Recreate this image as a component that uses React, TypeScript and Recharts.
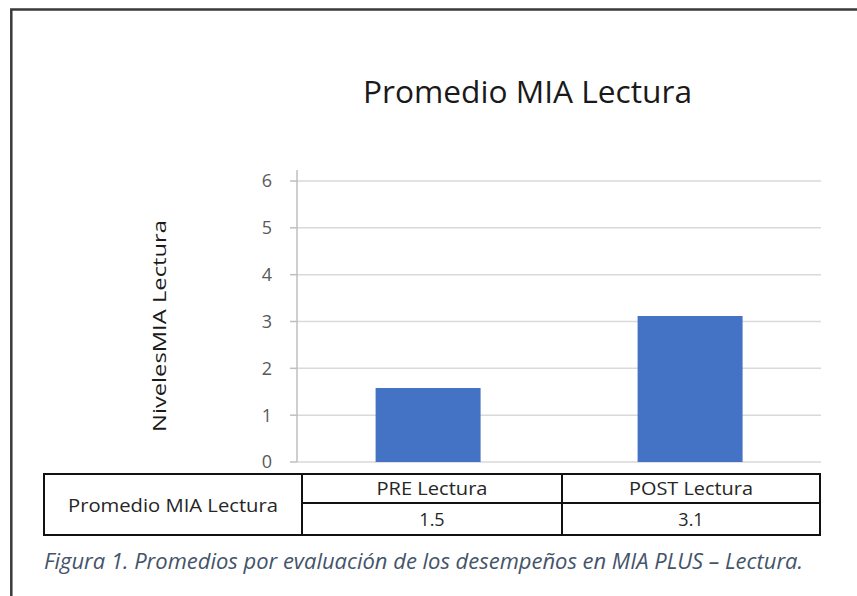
import React from "react";
import { BarChart, Bar, XAxis, YAxis, CartesianGrid } from "recharts";

const categories = ["PRE Lectura", "POST Lectura"];
const promedios = [1.58, 3.12];
const promedioLabels = ["1.5", "3.1"];
const yTicks = [0, 1, 2, 3, 4, 5, 6];
const seriesName = "Promedio MIA Lectura";
const chartTitle = "Promedio MIA Lectura";
const yAxisTitle = "NivelesMIA Lectura";
const caption = "Figura 1. Promedios por evaluación de los desempeños en MIA PLUS – Lectura.";

const data = categories.map((c, i) => ({ name: c, value: promedios[i] }));

const W = 857;
const H = 596;
const FONT = "'Open Sans', 'Noto Sans', sans-serif";

// table layout
const colX = [44, 302, 562, 820];
const rowY = [474, 503, 535];
const headerWidths = [111, 124];

export default function App() {
  return (
    <div
      style={{
        position: "fixed",
        left: 0,
        top: 0,
        width: W,
        height: H,
        background: "#ffffff",
        overflow: "hidden",
      }}
    >
      <div style={{ position: "absolute", left: 0, top: 0 }}>
        <BarChart
          width={W}
          height={H}
          data={data}
          margin={{ top: 181, right: 36, bottom: 134, left: 0 }}
          barCategoryGap="30%"
        >
          <CartesianGrid vertical={false} stroke="#d9d9d9" strokeWidth={1.5} />
          <XAxis dataKey="name" hide />
          <YAxis
            width={297}
            domain={[0, 6]}
            ticks={yTicks}
            interval={0}
            axisLine={{ stroke: "#bfbfbf", strokeWidth: 1.5 }}
            tickLine={{ stroke: "#bfbfbf", strokeWidth: 1.5 }}
            tickSize={7}
            tickMargin={18}
            tick={{ fill: "#595959", fontSize: 18, fontFamily: FONT }}
          />
          <Bar
            dataKey="value"
            name={seriesName}
            fill="#4472C4"
            isAnimationActive={false}
          />
        </BarChart>
      </div>
      <svg
        width={W}
        height={H}
        style={{ position: "absolute", left: 0, top: 0, pointerEvents: "none" }}
      >
        {/* outer frame */}
        <path
          d={`M 11.3 ${H + 5} L 11.3 9.6 L ${W + 5} 9.6`}
          fill="none"
          stroke="#3a3a3a"
          strokeWidth={2.5}
        />
        {/* axis extension above top gridline */}
        <line x1={297} y1={170} x2={297} y2={182} stroke="#bfbfbf" strokeWidth={1.5} />
        {/* title */}
        <text
          x={527.5}
          y={103}
          textAnchor="middle"
          fontFamily={FONT}
          fontSize={31}
          fill="#1a1a1a"
          textLength={329}
          lengthAdjust="spacingAndGlyphs"
        >
          {chartTitle}
        </text>
        {/* y axis title */}
        <text
          transform="translate(166, 326) rotate(-90)"
          textAnchor="middle"
          fontFamily={FONT}
          fontSize={18}
          fill="#1a1a1a"
          textLength={212}
          lengthAdjust="spacingAndGlyphs"
        >
          {yAxisTitle}
        </text>
        {/* data table */}
        <rect
          x={colX[0]}
          y={rowY[0]}
          width={colX[3] - colX[0]}
          height={rowY[2] - rowY[0]}
          fill="none"
          stroke="#111"
          strokeWidth={2}
        />
        <line x1={colX[1]} y1={rowY[0]} x2={colX[1]} y2={rowY[2]} stroke="#111" strokeWidth={2} />
        <line x1={colX[2]} y1={rowY[0]} x2={colX[2]} y2={rowY[2]} stroke="#111" strokeWidth={2} />
        <line x1={colX[1]} y1={rowY[1]} x2={colX[3]} y2={rowY[1]} stroke="#111" strokeWidth={2} />
        <text
          x={(colX[0] + colX[1]) / 2}
          y={512}
          textAnchor="middle"
          fontFamily={FONT}
          fontSize={18}
          fill="#262626"
          textLength={210}
          lengthAdjust="spacingAndGlyphs"
        >
          {seriesName}
        </text>
        {categories.map((c, i) => (
          <text
            key={"h" + c}
            x={(colX[i + 1] + colX[i + 2]) / 2}
            y={495}
            textAnchor="middle"
            fontFamily={FONT}
            fontSize={18}
            fill="#262626"
            textLength={headerWidths[i]}
            lengthAdjust="spacingAndGlyphs"
          >
            {c}
          </text>
        ))}
        {promedioLabels.map((v, i) => (
          <text
            key={"v" + i}
            x={(colX[i + 1] + colX[i + 2]) / 2}
            y={526}
            textAnchor="middle"
            fontFamily={FONT}
            fontSize={18}
            fill="#262626"
          >
            {v}
          </text>
        ))}
        {/* caption */}
        <text
          x={44}
          y={569}
          fontFamily={FONT}
          fontStyle="italic"
          fontSize={22}
          fill="#44546A"
          textLength={759}
          lengthAdjust="spacingAndGlyphs"
        >
          {caption}
        </text>
      </svg>
    </div>
  );
}
